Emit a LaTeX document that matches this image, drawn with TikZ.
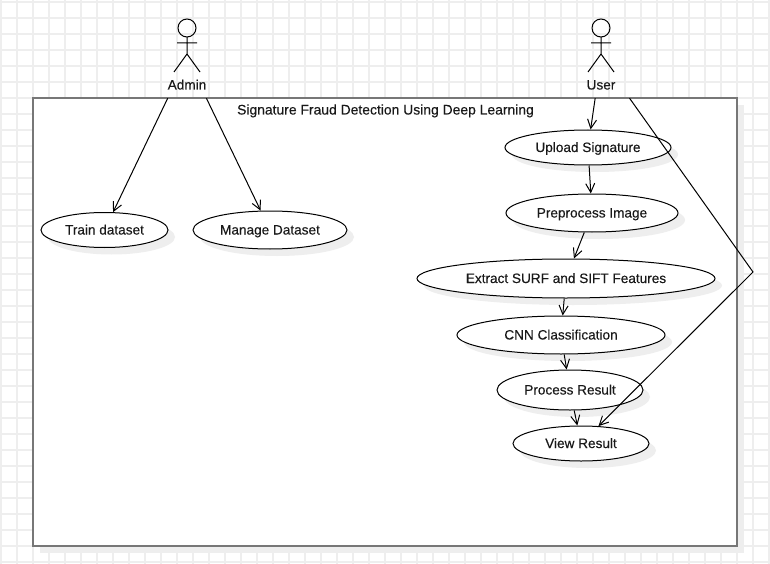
\documentclass[tikz,border=0pt]{standalone}
\usepackage{fontspec}
\setmainfont[FakeBold=0.25]{Liberation Sans}
\usetikzlibrary{shapes.geometric,arrows.meta,shadows}
\definecolor{gridc}{HTML}{EEEEEE}
\definecolor{framec}{HTML}{777777}
\tikzset{
  x=1pt,y=-1pt,
  every node/.style={font=\fontsize{13.6}{15}\selectfont,text=black!90,text height=10.5pt,text depth=1.5pt},
  usecase/.style={ellipse,draw=black,line width=1pt,fill=white,inner sep=0pt,
    drop shadow={shadow xshift=7pt,shadow yshift=-7pt,fill=gridc,opacity=1}},
  system/.style={rectangle,draw=framec,line width=2pt,fill=white,inner sep=0pt,
    drop shadow={shadow xshift=7pt,shadow yshift=-7pt,fill=gridc,opacity=1}},
  actorbox/.style={rectangle,minimum width=80pt,minimum height=80pt,inner sep=0pt},
  actorline/.style={line width=1pt,draw=black},
  link/.style={line width=1pt,draw=black,-{Straight Barb[length=9pt,width=9pt]}}
}
\begin{document}
\begin{tikzpicture}
\useasboundingbox (0,0) rectangle (770,564);
\fill[white] (0,0) rectangle (770,564);
\foreach \k in {0,...,48} \draw[gridc,line width=1.4pt] ({1+16*\k},0) -- ({1+16*\k},564);
\foreach \k in {0,...,35} \draw[gridc,line width=1.4pt] (0,{2+16*\k}) -- (770,{2+16*\k});

\node[system,minimum width=704pt,minimum height=448pt] (sys) at (385,322) {};
\node[font=\fontsize{13.9}{15}\selectfont] (title) at (385.5,110) {Signature Fraud Detection Using Deep Learning};

\node[actorbox] (admin) at (187,58) {};
\node[actorbox] (user) at (601,58) {};
\foreach \c in {187,601}{
  \draw[actorline] (\c,28) circle[radius=9pt];
  \draw[actorline] (\c,37) -- (\c,54) (\c-10,43) -- (\c+10,43)
     (\c-13,72) -- (\c,54) -- (\c+13,72);
}
\node (adminlabel) at (187,85) {Admin};
\node (userlabel) at (601,85) {User};

\node[usecase,minimum width=127pt,minimum height=35pt] (train) at (104.5,230) {Train dataset};
\node[usecase,minimum width=154pt,minimum height=38pt] (manage) at (270,230) {Manage Dataset};
\node[usecase,minimum width=166pt,minimum height=35pt] (upload) at (588,147.5) {Upload Signature};
\node[usecase,minimum width=172pt,minimum height=38pt] (pre) at (592,213) {Preprocess Image};
\node[usecase,minimum width=298pt,minimum height=39pt] (extract) at (566,278.5) {Extract SURF and SIFT Features};
\node[usecase,minimum width=208pt,minimum height=38pt] (cnn) at (561,335) {CNN Classification};
\node[usecase,minimum width=146pt,minimum height=40pt] (process) at (570,390) {Process Result};
\node[usecase,minimum width=136pt,minimum height=35pt] (view) at (581,443.5) {View Result};

\coordinate (bend) at (753,272);
\draw[link] (admin) -- (train);
\draw[link] (admin) -- (manage);
\draw[link] (user) -- (upload);
\draw[link] (upload) -- (pre);
\draw[link] (pre) -- (extract);
\draw[link] (extract) -- (cnn);
\draw[link] (cnn) -- (process);
\draw[link] (process) -- (view);
\draw[link] (user) -- (bend) -- (view);
\end{tikzpicture}
\end{document}
